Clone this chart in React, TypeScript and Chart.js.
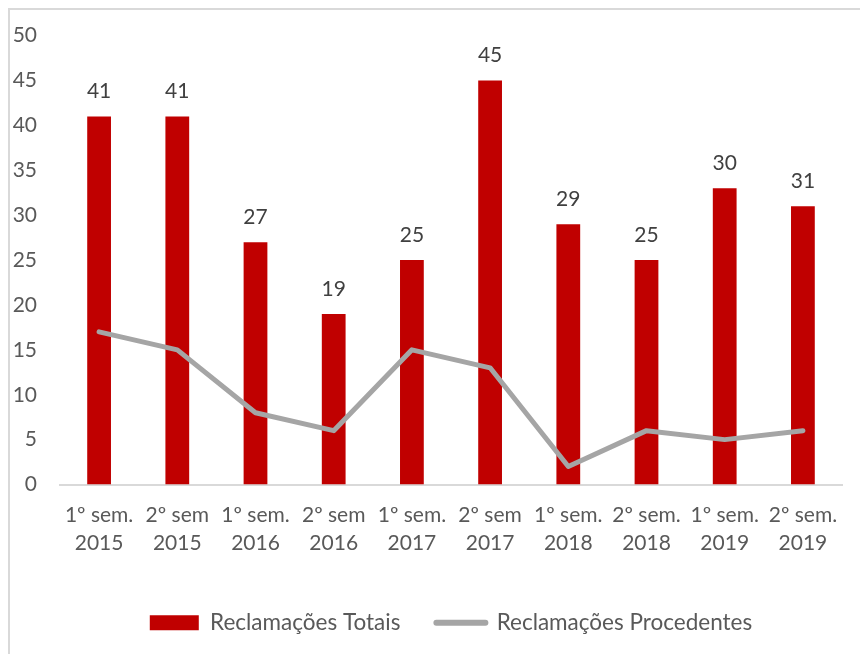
import React, { useEffect, useRef } from "react";
import { Chart, registerables } from "chart.js";

Chart.register(...registerables);

const categories: string[][] = [
  ["1º sem.", "2015"],
  ["2º sem", "2015"],
  ["1º sem.", "2016"],
  ["2º sem", "2016"],
  ["1º sem.", "2017"],
  ["2º sem", "2017"],
  ["1º sem.", "2018"],
  ["2º sem.", "2018"],
  ["1º sem.", "2019"],
  ["2º sem.", "2019"],
];
const totais: number[] = [41, 41, 27, 19, 25, 45, 29, 25, 33, 31];
const totaisLabels: string[] = ["41", "41", "27", "19", "25", "45", "29", "25", "30", "31"];
const procedentes: number[] = [17, 15, 8, 6, 15, 13, 2, 6, 5, 6];
const yTicks: number[] = [0, 5, 10, 15, 20, 25, 30, 35, 40, 45, 50];

const FONT = "Lato, 'Open Sans', sans-serif";
const TEXT = "#595959";
const RED = "#C00000";
const GRAY = "#A5A5A5";

const barLabelPlugin = {
  id: "barLabels",
  afterDatasetsDraw(chart: any) {
    const meta = chart.getDatasetMeta(0);
    const ctx = chart.ctx;
    ctx.save();
    ctx.font = `21px ${FONT}`;
    ctx.fillStyle = "#404040";
    ctx.textAlign = "center";
    ctx.textBaseline = "middle";
    meta.data.forEach((bar: any, i: number) => {
      ctx.fillText(totaisLabels[i], bar.x, bar.y - 25);
    });
    ctx.restore();
  },
};

export default function App() {
  const ref = useRef<HTMLCanvasElement | null>(null);
  useEffect(() => {
    if (!ref.current) return;
    const chart = new Chart(ref.current, {
      type: "bar",
      data: {
        labels: categories,
        datasets: [
          {
            type: "bar",
            label: "Reclamações Totais",
            data: totais,
            backgroundColor: RED,
            borderWidth: 0,
            barPercentage: 0.304,
            categoryPercentage: 1,
            order: 2,
          },
          {
            type: "line",
            label: "Reclamações Procedentes",
            data: procedentes,
            borderColor: GRAY,
            backgroundColor: GRAY,
            borderWidth: 5,
            borderCapStyle: "round",
            borderJoinStyle: "round",
            pointRadius: 0,
            tension: 0,
            order: 1,
          },
        ],
      } as any,
      options: {
        animation: false,
        responsive: false,
        layout: { padding: { top: 25.7, right: 26, left: 0, bottom: 10 } },
        plugins: {
          tooltip: { enabled: false },
          legend: {
            position: "bottom",
            fullSize: false,
            labels: {
              usePointStyle: true,
              pointStyleWidth: 49,
              boxWidth: 49,
              boxHeight: 15,
              padding: 36,
              color: TEXT,
              font: { family: FONT, size: 22.5 },
              generateLabels: () => [
                {
                  text: "Reclamações Totais",
                  fillStyle: RED,
                  strokeStyle: RED,
                  lineWidth: 0,
                  pointStyle: "rect",
                  datasetIndex: 0,
                  fontColor: TEXT,
                  hidden: false,
                },
                {
                  text: "Reclamações Procedentes",
                  fillStyle: GRAY,
                  strokeStyle: GRAY,
                  lineWidth: 6,
                  lineCap: "round",
                  pointStyle: "line",
                  datasetIndex: 1,
                  fontColor: TEXT,
                  hidden: false,
                },
              ] as any,
            },
          },
        },
        scales: {
          x: {
            grid: { display: false, drawTicks: false },
            border: { display: true, color: "#D9D9D9", width: 2 },
            ticks: {
              color: TEXT,
              font: { family: FONT, size: 21, lineHeight: 1.31 },
              padding: 17,
              maxRotation: 0,
              autoSkip: false,
            },
            afterFit: (s: any) => {
              s.height = 91;
            },
          },
          y: {
            min: 0,
            max: 50,
            afterBuildTicks: (s: any) => {
              s.ticks = yTicks.map((v) => ({ value: v }));
            },
            grid: { display: false, drawTicks: false },
            border: { display: false },
            ticks: {
              color: TEXT,
              font: { family: FONT, size: 21 },
              padding: 23,
            },
            afterFit: (s: any) => {
              s.width = 50;
              s.paddingTop = 0;
              s.paddingBottom = 0;
            },
          },
        },
      } as any,
      plugins: [barLabelPlugin],
    });
    return () => chart.destroy();
  }, []);

  return (
    <div
      style={{
        width: 860,
        height: 646,
        borderTop: "2px solid #D9D9D9",
        borderLeft: "2px solid #D9D9D9",
        boxSizing: "border-box",
        background: "#fff",
      }}
    >
      <canvas ref={ref} width={858} height={644} style={{ display: "block" }} />
    </div>
  );
}
